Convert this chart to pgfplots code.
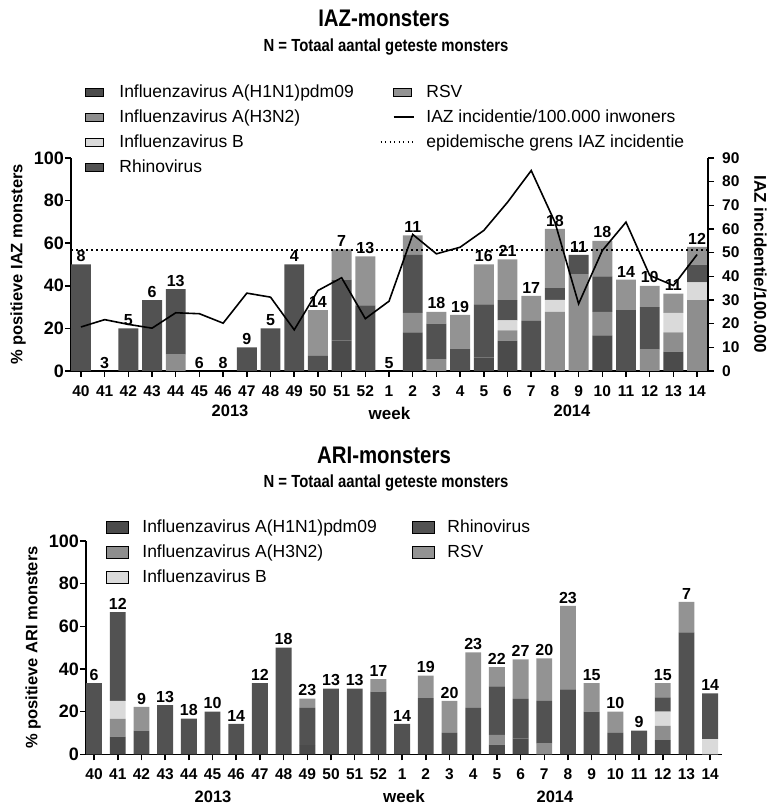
\documentclass[border=0pt]{standalone}
\usepackage{fontspec}
\setmainfont{Liberation Sans}
\newfontfamily\condfont[FakeStretch=0.85]{Liberation Sans}
\usepackage{pgfplots}
\usepackage{pgfplotstable}
\pgfplotsset{compat=1.18}

\definecolor{cHone}{HTML}{4B4B4B}
\definecolor{cHthree}{HTML}{8E8E8E}
\definecolor{cB}{HTML}{DADADA}
\definecolor{cRh}{HTML}{525252}
\definecolor{cRSV}{HTML}{939393}

\pgfplotstableread{
x H1 H3 B Rh RSV N inc tot
0 0 0 0 50 0 8 18.6 50
1 0 0 0 0 0 3 21.7 0
2 0 0 0 20 0 5 19.7 20
3 0 0 0 33.33 0 6 18.1 33.33
4 0 7.69 0 30.77 0 13 24.6 38.46
5 0 0 0 0 0 6 24.2 0
6 0 0 0 0 0 8 20.2 0
7 0 0 0 11.11 0 9 32.9 11.11
8 0 0 0 20 0 5 31.2 20
9 0 0 0 50 0 4 17.4 50
10 0 0 0 7.14 21.43 14 34.0 28.57
11 14.29 0 0 28.57 14.29 7 39.4 57.15
12 0 0 0 30.77 23.08 13 22.1 53.85
13 0 0 0 0 0 5 29.5 0
14 18.18 9.09 0 27.27 9.09 11 57.7 63.63
15 0 5.56 0 16.67 5.56 18 49.5 27.79
16 0 0 0 10.53 15.79 19 52.3 26.32
17 6.25 0 0 25 18.75 16 59.4 50
18 14.29 4.76 4.76 9.52 19.05 21 71.3 52.38
19 0 0 0 23.53 11.76 17 84.7 35.29
20 0 27.78 5.56 5.56 27.78 18 62.9 66.68
21 0 45.45 0 9.09 0 11 28.4 54.54
22 16.67 11.11 0 16.67 16.67 18 50.9 61.12
23 0 0 0 28.57 14.29 14 62.9 42.86
24 0 10 0 20 10 10 40.4 40
25 9.09 9.09 9.09 0 9.09 11 36.1 36.36
26 0 33.33 8.33 8.33 8.33 12 49.2 58.32
}\iaz

\pgfplotstableread{
x H1 H3 B Rh RSV N tot
0 0 0 0 33.33 0 6 33.33
1 8.33 8.33 8.33 41.67 0 12 66.66
2 0 0 0 11.11 11.11 9 22.22
3 0 0 0 23.08 0 13 23.08
4 0 0 0 16.67 0 18 16.67
5 0 0 0 20 0 10 20
6 0 0 0 14.29 0 14 14.29
7 0 0 0 33.33 0 12 33.33
8 0 0 0 50 0 18 50
9 4.35 0 0 17.39 4.35 23 26.09
10 0 0 0 30.77 0 13 30.77
11 0 0 0 30.77 0 13 30.77
12 0 0 0 29.41 5.88 17 35.29
13 0 0 0 14.29 0 14 14.29
14 0 0 0 26.32 10.53 19 36.85
15 0 0 0 10 15 20 25
16 0 0 0 21.74 26.09 23 47.83
17 4.55 4.55 0 22.73 9.09 22 40.92
18 7.41 0 0 18.52 18.52 27 44.45
19 0 5 0 20 20 20 45
20 0 0 0 30.43 39.13 23 69.56
21 0 0 0 20 13.33 15 33.33
22 0 0 0 10 10 10 20
23 0 0 0 11.11 0 9 11.11
24 6.67 6.67 6.67 6.67 6.67 15 33.35
25 0 0 0 57.14 14.29 7 71.43
26 0 0 7.14 21.43 0 14 28.57
}\ari

\pgfplotsset{
  barax/.style={
    scale only axis, anchor=south west,
    ybar stacked, ymin=0, ymax=100,
    axis x line*=bottom, axis y line*=left,
    axis line style={-, line width=1.5bp},
    tick align=outside, major tick length=6bp,
    tick style={line width=1.5bp, black},
    xtick={0,...,26},
    xticklabels={40,41,42,43,44,45,46,47,48,49,50,51,52,1,2,3,4,5,6,7,8,9,10,11,12,13,14},
    ytick={0,20,40,60,80,100},
    /pgf/number format/assume math mode=true,
    x tick label style={font=\bfseries\fontsize{15.5bp}{18bp}\selectfont, inner sep=2bp, yshift=-6.5bp},
    y tick label style={font=\bfseries\fontsize{18bp}{21bp}\selectfont, inner sep=1bp},
    ylabel style={font=\bfseries\fontsize{16.5bp}{20bp}\selectfont, at={(axis description cs:-0.083,0.5)}, anchor=center},
    xlabel={week},
    xlabel style={font=\bfseries\fontsize{17bp}{20bp}\selectfont, at={(axis description cs:0.5,0)}, anchor=center, yshift=-42bp},
    clip=false,
  },
  labax/.style={scale only axis, anchor=south west, hide axis, ymin=0, ymax=100, clip=false},
  nlab/.style={draw=none, mark=none, nodes near coords, point meta=explicit symbolic,
    every node near coord/.append style={font=\bfseries\fontsize{16bp}{19bp}\selectfont, anchor=south, inner sep=2.5bp, text=black}},
  swA/.style={legend image code/.code={\fill[##1] (0bp,-2.5bp) rectangle (18bp,5.5bp);}},
  swB/.style={legend image code/.code={\fill[##1] (0bp,-4.5bp) rectangle (22bp,7.5bp);}},
  lnA/.style={legend image code/.code={\draw[##1] (0bp,1.5bp) -- (20bp,1.5bp);}},
  dtA/.style={legend image code/.code={\draw[##1] (-13bp,1.5bp) -- (20bp,1.5bp);}},
  legax/.style={hide axis, scale only axis, anchor=north west, width=1bp, height=1bp,
    xmin=0, xmax=1, ymin=0, ymax=1,
    legend style={at={(0,1)}, anchor=north west, draw=none, fill=none, inner sep=0pt, outer sep=0pt,
      row sep=8bp, font=\fontsize{17.5bp}{21bp}\selectfont,
      nodes={inner sep=0pt, text height=13bp, text depth=4bp}},
    legend cell align=left},
}

\begin{document}
\begin{tikzpicture}
\useasboundingbox (0,0) rectangle (768bp,805bp);

% titles
\node[font=\condfont\bfseries\fontsize{24bp}{28bp}\selectfont] at (384bp,787bp) {IAZ-monsters};
\node[font=\condfont\bfseries\fontsize{17.5bp}{20bp}\selectfont] at (386bp,758bp) {N = Totaal aantal geteste monsters};
\node[font=\condfont\bfseries\fontsize{24bp}{28bp}\selectfont] at (384bp,350bp) {ARI-monsters};
\node[font=\condfont\bfseries\fontsize{17.5bp}{20bp}\selectfont] at (386bp,322bp) {N = Totaal aantal geteste monsters};

% ---------- IAZ chart ----------
\begin{axis}[barax, at={(71bp,434bp)}, width=637bp, height=213bp,
  xmin=-0.42, xmax=26.46, bar width=0.84,
  ylabel={\% positieve IAZ monsters}]
\addplot[fill=cHone, draw=none] table[x=x,y=H1]{\iaz};
\addplot[fill=cHthree, draw=none] table[x=x,y=H3]{\iaz};
\addplot[fill=cB, draw=none] table[x=x,y=B]{\iaz};
\addplot[fill=cRh, draw=none] table[x=x,y=Rh]{\iaz};
\addplot[fill=cRSV, draw=none] table[x=x,y=RSV]{\iaz};
\node[font=\bfseries\fontsize{16.5bp}{20bp}\selectfont] at (axis cs:6.29,0) [yshift=-40bp] {2013};
\node[font=\bfseries\fontsize{16.5bp}{20bp}\selectfont] at (axis cs:20.72,0) [yshift=-40bp] {2014};
\end{axis}

\begin{axis}[labax, at={(71bp,434bp)}, width=637bp, height=213bp, xmin=-0.42, xmax=26.46]
\addplot[nlab] table[x=x,y=tot,meta=N]{\iaz};
\end{axis}

\begin{axis}[scale only axis, anchor=south west, at={(71bp,434bp)}, width=637bp, height=213bp,
  xmin=-0.42, xmax=26.46, ymin=0, ymax=90,
  axis x line=none, axis y line*=right,
  axis line style={-, line width=1.5bp},
  tick align=outside, major tick length=6bp, tick style={line width=1.5bp, black},
  ytick={0,10,...,90},
  /pgf/number format/assume math mode=true,
  y tick label style={font=\bfseries\fontsize{15.5bp}{18bp}\selectfont, inner sep=2bp, xshift=6bp},
  ylabel={IAZ incidentie/100.000},
  ylabel style={font=\bfseries\fontsize{17bp}{20bp}\selectfont, at={(axis description cs:1.082,0.5)}, anchor=center, rotate=180},
  clip=false]
\addplot[black, mark=none, line width=1.6bp] table[x=x,y=inc]{\iaz};
\addplot[black, mark=none, line width=1.5bp, dash pattern=on 1.5bp off 3.5bp] coordinates {(-0.42,51.2) (26.46,51.2)};
\end{axis}

% legends IAZ
\begin{axis}[legax, at={(85bp,720bp)},
  legend style={/tikz/every odd column/.append style={column sep=16bp}}]
\addlegendimage{swA, fill=cHone}\addlegendentry{Influenzavirus A(H1N1)pdm09}
\addlegendimage{swA, fill=cHthree}\addlegendentry{Influenzavirus A(H3N2)}
\addlegendimage{swA, fill=cB}\addlegendentry{Influenzavirus B}
\addlegendimage{swA, fill=cRh}\addlegendentry{Rhinovirus}
\end{axis}
\begin{axis}[legax, at={(380bp,720bp)},
  legend style={/tikz/every odd column/.append style={column sep=12bp}}]
\addlegendimage{swA, fill=cRSV}\addlegendentry{RSV}
\addlegendimage{lnA, black, line width=1.6bp}\addlegendentry{IAZ incidentie/100.000 inwoners}
\addlegendimage{dtA, black, line width=1.2bp, dash pattern=on 1.2bp off 3.3bp}\addlegendentry{epidemische grens IAZ incidentie}
\end{axis}

% ---------- ARI chart ----------
\begin{axis}[barax, at={(86bp,50.7bp)}, width=636bp, height=213.3bp,
  xmin=-0.34, xmax=26.5, bar width=0.67,
  ylabel={\% positieve ARI monsters}]
\addplot[fill=cHone, draw=none] table[x=x,y=H1]{\ari};
\addplot[fill=cHthree, draw=none] table[x=x,y=H3]{\ari};
\addplot[fill=cB, draw=none] table[x=x,y=B]{\ari};
\addplot[fill=cRh, draw=none] table[x=x,y=Rh]{\ari};
\addplot[fill=cRSV, draw=none] table[x=x,y=RSV]{\ari};
\node[font=\bfseries\fontsize{16.5bp}{20bp}\selectfont] at (axis cs:5.02,0) [yshift=-43bp] {2013};
\node[font=\bfseries\fontsize{16.5bp}{20bp}\selectfont] at (axis cs:19.45,0) [yshift=-43bp] {2014};
\end{axis}

\begin{axis}[labax, at={(86bp,50.7bp)}, width=636bp, height=213.3bp, xmin=-0.34, xmax=26.5]
\addplot[nlab] table[x=x,y=tot,meta=N]{\ari};
\end{axis}

\begin{axis}[legax, at={(106bp,285bp)},
  legend style={/tikz/every odd column/.append style={column sep=14bp}}]
\addlegendimage{swB, fill=cHone}\addlegendentry{Influenzavirus A(H1N1)pdm09}
\addlegendimage{swB, fill=cHthree}\addlegendentry{Influenzavirus A(H3N2)}
\addlegendimage{swB, fill=cB}\addlegendentry{Influenzavirus B}
\end{axis}
\begin{axis}[legax, at={(412bp,285bp)},
  legend style={/tikz/every odd column/.append style={column sep=13bp}}]
\addlegendimage{swB, fill=cRh}\addlegendentry{Rhinovirus}
\addlegendimage{swB, fill=cRSV}\addlegendentry{RSV}
\end{axis}
\end{tikzpicture}
\end{document}
